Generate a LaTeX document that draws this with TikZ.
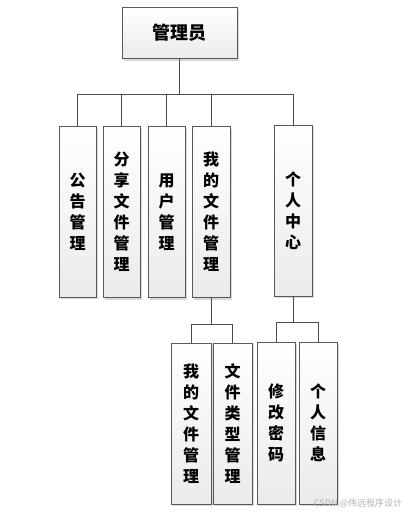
\documentclass[tikz,border=0pt]{standalone}
\usepackage{fontspec}
\newfontfamily\cjk{Noto Sans CJK SC}
\usetikzlibrary{shadows}

\begin{document}
\begin{tikzpicture}[x=1pt,y=-1pt,
    box/.style={draw=black!65, line width=0.8pt, top color=white, bottom color=black!8,
      drop shadow={shadow xshift=2pt, shadow yshift=-2pt, fill=black!30, opacity=0.5},
      font=\cjk\bfseries\fontsize{16}{21}\selectfont, align=center, inner sep=0pt},
    link/.style={draw=black!70, line width=1pt}]
  \useasboundingbox (0,0) rectangle (410,515);
  % top
  \node[box, minimum width=115pt, minimum height=51pt,
    font=\cjk\bfseries\fontsize{18}{22}\selectfont] (admin) at (179.5,33) {管理员};
  % first level
  \node[box, minimum width=37pt, minimum height=171pt] (notice) at (77.5,211.5) {公\\告\\管\\理};
  \node[box, minimum width=37pt, minimum height=171pt] (share) at (121.5,212) {分\\享\\文\\件\\管\\理};
  \node[box, minimum width=37pt, minimum height=171pt] (user) at (166.5,212) {用\\户\\管\\理};
  \node[box, minimum width=38pt, minimum height=171pt] (myfile) at (211,212) {我\\的\\文\\件\\管\\理};
  \node[box, minimum width=38pt, minimum height=171pt] (center) at (293,210.5) {个\\人\\中\\心};
  % second level
  \node[box, minimum width=40pt, minimum height=161pt] (myfile2) at (191,423.5) {我\\的\\文\\件\\管\\理};
  \node[box, minimum width=39pt, minimum height=161pt] (ftype) at (232.5,423.5) {文\\件\\类\\型\\管\\理};
  \node[box, minimum width=38pt, minimum height=162pt] (pwd) at (276,423) {修\\改\\密\\码};
  \node[box, minimum width=38pt, minimum height=162pt] (info) at (318,423) {个\\人\\信\\息};
  % links
  \foreach \n in {notice,share,user,myfile,center}
    \draw[link] (admin.south) -- ++(0,36) -| (\n.north);
  \foreach \n in {myfile2,ftype}
    \draw[link] (myfile.south) -- ++(0,26.5) -| (\n.north);
  \foreach \n in {pwd,info}
    \draw[link] (center.south) -- ++(0,26) -| (\n.north);
  \node[font=\cjk\fontsize{9}{11}\selectfont, text=black!30] (mark) at (358,503) {CSDN @伟远程序设计};
\end{tikzpicture}
\end{document}
